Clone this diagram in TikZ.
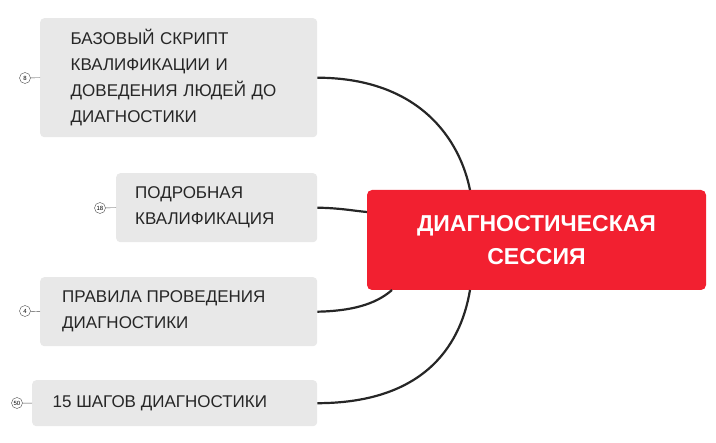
\documentclass[tikz,border=0pt]{standalone}
\usepackage{fontspec}
\setmainfont{Liberation Sans}
\begin{document}
\begin{tikzpicture}[x=1pt,y=-1pt,
  leaf/.style={fill=gray!18,rounded corners=4pt,anchor=north west,inner sep=0pt,font=\fontsize{17}{26}\selectfont,text=black!85},
  hub/.style={fill=red!85!black!70!red,fill={rgb,255:red,242;green,32;blue,48},rounded corners=5pt,text=white,font=\bfseries\fontsize{23}{33}\selectfont,align=center},
  num/.style={circle,draw=black!70,inner sep=0pt,minimum size=11pt,font=\fontsize{6}{6}\selectfont},
  conn/.style={line width=2.2pt,draw=black!85}]
\useasboundingbox (0,0) rectangle (716,443);
\node[hub,minimum width=339pt,minimum height=100pt] (c) at (536.5,240) {ДИАГНОСТИЧЕСКАЯ\\СЕССИЯ};
\node[leaf,minimum width=277pt,minimum height=119pt,text width=250pt,align=left] (a) at (40,18) {\hspace*{17pt}\parbox{250pt}{БАЗОВЫЙ СКРИПТ\\КВАЛИФИКАЦИИ И\\ДОВЕДЕНИЯ ЛЮДЕЙ ДО\\ДИАГНОСТИКИ}};
\node[leaf,minimum width=201pt,minimum height=69pt] (b) at (116,173) {\hspace*{17pt}\parbox{180pt}{ПОДРОБНАЯ\\КВАЛИФИКАЦИЯ}};
\node[leaf,minimum width=277pt,minimum height=69pt] (d) at (40,277) {\hspace*{17pt}\parbox{250pt}{ПРАВИЛА ПРОВЕДЕНИЯ\\ДИАГНОСТИКИ}};
\node[leaf,minimum width=285pt,minimum height=46pt] (e) at (32,380) {\hspace*{16pt}\parbox{260pt}{15 ШАГОВ ДИАГНОСТИКИ}};
\node[num] (na) at (25,78) {8};
\node[num] (nb) at (100,208) {18};
\node[num] (nd) at (25,311) {4};
\node[num] (ne) at (17,403) {50};
\draw[black!70] (na) -- (a.west);
\draw[black!70] (nb) -- (b.west);
\draw[black!70] (nd) -- (d.west);
\draw[black!70] (ne) -- (e.west);
\coordinate (ca) at (470,190);
\coordinate (cb) at (367,212);
\coordinate (cd) at (392,290);
\coordinate (ce) at (470,290);
\draw[conn] (a.east) .. controls (420,78) and (460,140) .. (ca);
\draw[conn] (b.east) .. controls (340,208) and (355,211) .. (cb);
\draw[conn] (d.east) .. controls (350,311) and (375,305) .. (cd);
\draw[conn] (e.east) .. controls (420,403) and (460,350) .. (ce);
\end{tikzpicture}
\end{document}
